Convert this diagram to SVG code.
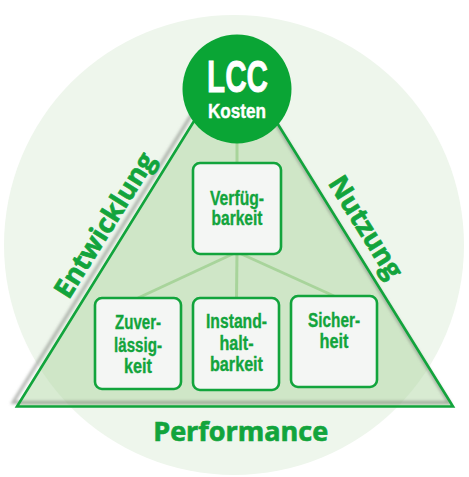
<svg xmlns="http://www.w3.org/2000/svg" width="469" height="477" viewBox="0 0 469 477">
<style>
.box{fill:#f4f6f4;stroke:#12a43c;stroke-width:2.6}
.bt{font-family:"Liberation Sans",Arial,sans-serif;font-weight:bold;font-size:20px;fill:#12a43c;stroke:#12a43c;stroke-width:0.35;text-anchor:middle}
.side{font-family:"Open Sans","Noto Sans",sans-serif;font-weight:bold;font-size:27px;fill:#12a43c;stroke:#12a43c;stroke-width:0.7;text-anchor:middle}
.conn{stroke:#a8d49b;stroke-width:3;fill:none}
.lcc{font-family:"Liberation Sans",Arial,sans-serif;font-weight:bold;fill:#ffffff;stroke:#ffffff;text-anchor:middle}
</style>
<defs>
<filter id="blur" x="-10%" y="-10%" width="120%" height="120%"><feGaussianBlur stdDeviation="1.4"/></filter>
</defs>
<rect width="469" height="477" fill="#ffffff"/>
<circle cx="234" cy="245" r="230" fill="#eef6ec"/>
<g id="triangle">
<polygon points="17,406.5 235,55 453,406.5" fill="#a9d29b" fill-opacity="0.45"/>
<polygon points="13,402.5 231,51 449,402.5" fill="none" stroke="#7a7f78" stroke-width="3" stroke-opacity="0.6" filter="url(#blur)"/>
<polygon points="17,406.5 235,55 453,406.5" fill="none" stroke="#12a43c" stroke-width="2.6"/>
</g>
<g id="connectors">
<line class="conn" x1="237" y1="140" x2="237" y2="163"/>
<line class="conn" x1="237" y1="252" x2="138" y2="298"/>
<line class="conn" x1="237" y1="252" x2="236.5" y2="298"/>
<line class="conn" x1="237" y1="252" x2="334" y2="296"/>
</g>
<g id="lcc">
<circle cx="237" cy="89" r="54.5" fill="#0aa535"/>
<text class="lcc" x="237.5" y="91.5" font-size="44" stroke-width="0.8" textLength="61" lengthAdjust="spacingAndGlyphs">LCC</text>
<text class="lcc" x="237" y="118" font-size="19.5" stroke-width="0.4" textLength="58" lengthAdjust="spacingAndGlyphs">Kosten</text>
</g>
<g id="verfuegbarkeit">
<rect class="box" x="193" y="163" width="88" height="91" rx="7"/>
<text class="bt" x="237" y="205" textLength="54" lengthAdjust="spacingAndGlyphs">Verfüg-</text>
<text class="bt" x="237" y="225" textLength="51" lengthAdjust="spacingAndGlyphs">barkeit</text>
</g>
<g id="zuverlaessigkeit">
<rect class="box" x="95" y="298" width="86" height="91" rx="7"/>
<text class="bt" x="138" y="329" textLength="46" lengthAdjust="spacingAndGlyphs">Zuver-</text>
<text class="bt" x="138" y="351.5" textLength="48" lengthAdjust="spacingAndGlyphs">lässig-</text>
<text class="bt" x="138" y="373" textLength="28" lengthAdjust="spacingAndGlyphs">keit</text>
</g>
<g id="instandhaltbarkeit">
<rect class="box" x="193" y="298" width="86" height="92" rx="7"/>
<text class="bt" x="236.5" y="327.5" textLength="61" lengthAdjust="spacingAndGlyphs">Instand-</text>
<text class="bt" x="236.5" y="349.5" textLength="34" lengthAdjust="spacingAndGlyphs">halt-</text>
<text class="bt" x="236.5" y="371" textLength="53" lengthAdjust="spacingAndGlyphs">barkeit</text>
</g>
<g id="sicherheit">
<rect class="box" x="291" y="296" width="86" height="91" rx="7"/>
<text class="bt" x="334" y="326.7" textLength="52" lengthAdjust="spacingAndGlyphs">Sicher-</text>
<text class="bt" x="334" y="348.3" textLength="29" lengthAdjust="spacingAndGlyphs">heit</text>
</g>
<g id="labels">
<text class="side" transform="translate(112.5,230) rotate(-58)">Entwicklung</text>
<text class="side" transform="translate(358,232) rotate(58)">Nutzung</text>
<text class="side" x="240.7" y="441" textLength="175" lengthAdjust="spacingAndGlyphs">Performance</text>
</g>
</svg>
